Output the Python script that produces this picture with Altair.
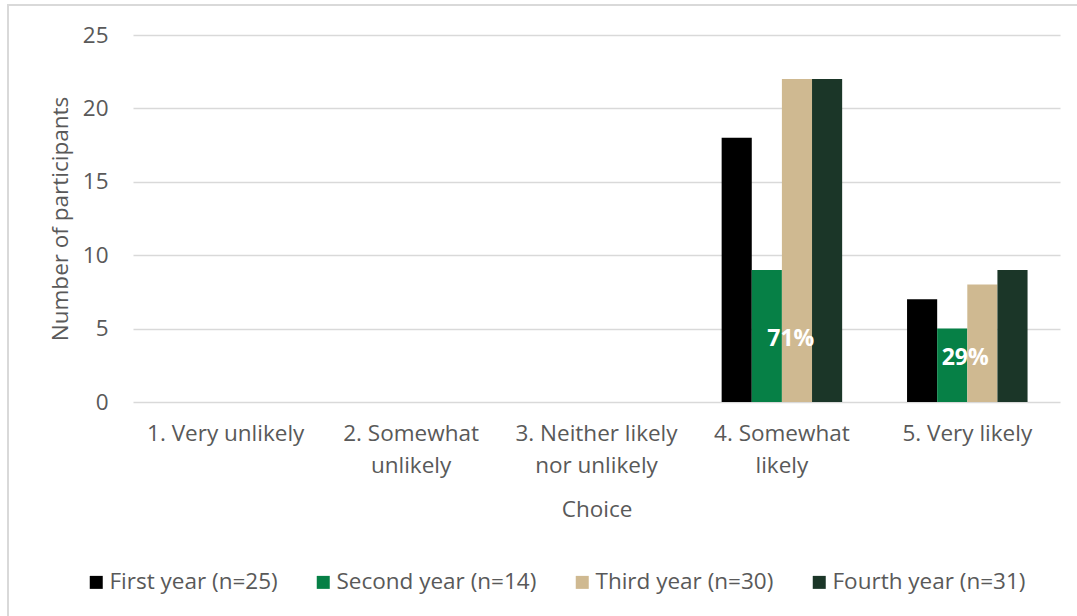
import altair as alt
import pandas as pd

# Survey answers and year groups
choices = [
    "1. Very unlikely",
    "2. Somewhat|unlikely",
    "3. Neither likely|nor unlikely",
    "4. Somewhat|likely",
    "5. Very likely",
]
years = [
    "First year (n=25)",
    "Second year (n=14)",
    "Third year (n=30)",
    "Fourth year (n=31)",
]
year_colors = ["#000000", "#068046", "#CFB991", "#1B3628"]

# Counts per choice, one list per year group
first_year = [0, 0, 0, 18, 7]
second_year = [0, 0, 0, 9, 5]
third_year = [0, 0, 0, 22, 8]
fourth_year = [0, 0, 0, 22, 9]

# Percentage labels shown on the second-year bars
pct_choices = ["4. Somewhat|likely", "5. Very likely"]
pct_labels = ["71%", "29%"]

rows = []
for year, counts in zip(years, [first_year, second_year, third_year, fourth_year]):
    for choice, n in zip(choices, counts):
        rows.append({"choice": choice, "year": year, "count": n})
bars_df = pd.DataFrame(rows)

label_rows = []
for choice, lab in zip(pct_choices, pct_labels):
    n = second_year[choices.index(choice)]
    label_rows.append({"choice": choice, "year": years[1], "count": n, "label": lab})
labels_df = pd.DataFrame(label_rows)

FONT = "Open Sans"
GREY = "#595959"
FS = 22.5

x_enc = alt.X(
    "choice:N",
    sort=choices,
    scale=alt.Scale(paddingInner=0.35, paddingOuter=0.175),
    axis=alt.Axis(
        title="Choice",
        labelAngle=0,
        labelExpr="split(datum.label, '|')",
        labelFontSize=FS,
        labelLineHeight=32,
        labelPadding=20,
        labelColor=GREY,
        labelFont=FONT,
        labelBaseline="top",
        labelLimit=0,
        titleFontSize=FS,
        titleFont=FONT,
        titleFontWeight="normal",
        titleColor=GREY,
        titleY=107,
        titleBaseline="middle",
        domain=False,
        ticks=False,
        grid=False,
    ),
)
offset_enc = alt.XOffset("year:N", sort=years)

bars = alt.Chart(bars_df).mark_bar().encode(
    x=x_enc,
    xOffset=offset_enc,
    y=alt.Y(
        "count:Q",
        scale=alt.Scale(domain=[0, 25], nice=False),
        axis=alt.Axis(
            title="Number of participants",
            values=[0, 5, 10, 15, 20, 25],
            labelFontSize=FS,
            labelColor=GREY,
            labelFont=FONT,
            labelPadding=25,
            titleFontSize=FS,
            titleFont=FONT,
            titleFontWeight="normal",
            titleColor=GREY,
            titleX=-73,
            titleBaseline="middle",
            domain=False,
            ticks=False,
            gridColor="#D9D9D9",
            gridWidth=1.3,
        ),
    ),
    color=alt.Color(
        "year:N",
        sort=years,
        scale=alt.Scale(domain=years, range=year_colors),
        legend=alt.Legend(
            title=None,
            orient="none",
            direction="horizontal",
            legendX=-48,
            legendY=536,
            symbolType="square",
            symbolSize=169,
            symbolStrokeWidth=0,
            labelFontSize=FS,
            labelFont=FONT,
            labelColor=GREY,
            labelOffset=2,
            labelLimit=0,
            columnPadding=34,
            padding=0,
        ),
    ),
)


def pct_layer(label, dx, dy):
    return (
        alt.Chart(labels_df)
        .transform_filter(alt.datum.label == label)
        .transform_calculate(mid="datum.count / 2")
        .mark_text(
            color="white",
            fontWeight="bold",
            fontSize=23,
            font=FONT,
            dx=dx,
            dy=dy,
            baseline="middle",
        )
        .encode(
            x=alt.X("choice:N", sort=choices),
            xOffset=alt.XOffset("year:N", sort=years),
            y=alt.Y("mid:Q"),
            text="label:N",
        )
    )


# Light border framing the chart area
frame = alt.Chart(alt.Data(values=[{}])).mark_rect(
    filled=False, stroke="#D9D9D9", strokeWidth=2
).encode(
    x=alt.value(-125),
    x2=alt.value(1000),
    y=alt.value(-30),
    y2=alt.value(700),
)

chart = (
    alt.layer(frame, bars, pct_layer("71%", 24, 3), pct_layer("29%", 13, -7))
    .properties(
        width=927,
        height=367,
        autosize=alt.AutoSizeParams(type="none"),
        padding={"left": 133, "top": 35, "right": 17, "bottom": 214},
        background="white",
    )
    .configure_view(stroke=None)
)

chart.save("out.html", embed_options={"renderer": "svg", "actions": False})
